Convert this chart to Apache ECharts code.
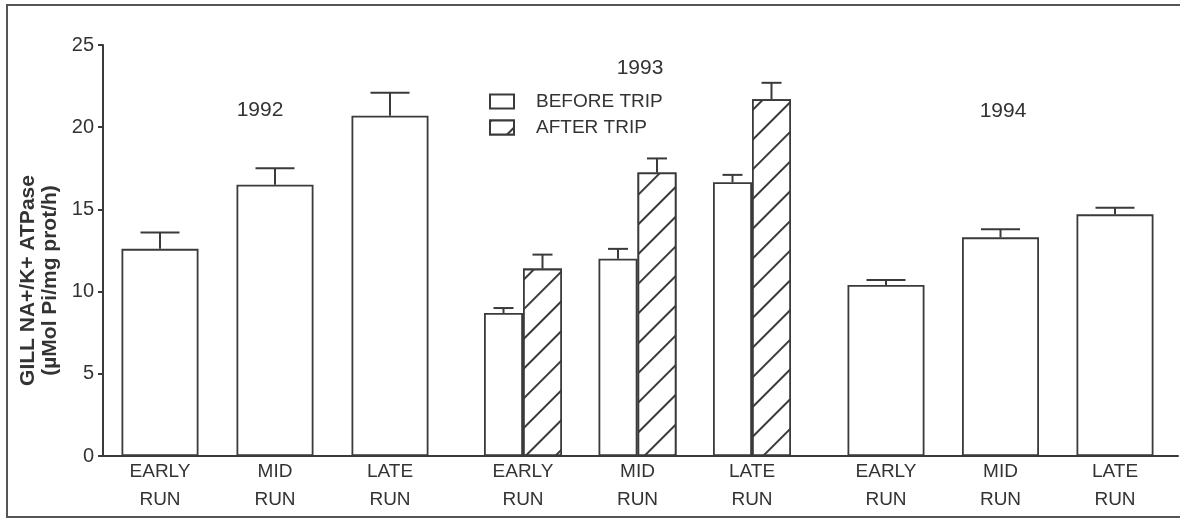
<!DOCTYPE html>
<html>
<head>
<meta charset="utf-8">
<title>Gill Na+/K+ ATPase</title>
<script src="https://cdn.jsdelivr.net/npm/echarts@6/dist/echarts.min.js"></script>
<style>
    html, body { margin: 0; padding: 0; background: #fff; }
    #main { width: 1180px; height: 519px; }
</style>
</head>
<body>
<div id="main"></div>
<script>
// categories and values
var runs = ['EARLY\nRUN', 'MID\nRUN', 'LATE\nRUN'];
var yTicks = [0, 5, 10, 15, 20, 25];
var years = ['1992', '1993', '1994'];

var mean1992 = [12.6, 16.5, 20.7];
var se1992 = [1.0, 1.0, 1.4];
var meanBefore1993 = [8.7, 12.0, 16.65];
var seBefore1993 = [0.3, 0.6, 0.45];
var meanAfter1993 = [11.4, 17.25, 21.7];
var seAfter1993 = [0.85, 0.85, 1.0];
var mean1994 = [10.4, 13.3, 14.7];
var se1994 = [0.3, 0.5, 0.4];

var ink = '#3a3a3a';
var textColor = '#333';
var font = "'Liberation Sans', Arial, Helvetica, sans-serif";

// upper error bar only
function errBar(offset, capHalf) {
    return function (params, api) {
        var base = api.coord([api.value(0), api.value(1)]);
        var top = api.coord([api.value(0), api.value(1) + api.value(2)]);
        var cx = base[0] + offset;
        var st = { stroke: ink, lineWidth: 2 };
        return {
            type: 'group',
            children: [
                { type: 'line', shape: { x1: cx, y1: base[1], x2: cx, y2: top[1] }, style: st },
                { type: 'line', shape: { x1: cx - capHalf, y1: top[1], x2: cx + capHalf, y2: top[1] }, style: st }
            ]
        };
    };
}

function errData(means, ses) {
    return means.map(function (v, i) { return [i, v, ses[i]]; });
}

var plainBar = { color: '#fff', borderColor: ink, borderWidth: 1.8 };
var hatchBar = {
    color: '#fff', borderColor: ink, borderWidth: 1.8,
    decal: {
        symbol: 'rect', symbolSize: 1, symbolKeepAspect: false,
        color: ink, backgroundColor: '#fff',
        dashArrayX: [1, 0], dashArrayY: [1.6, 18.4],
        rotation: -Math.PI / 4
    }
};

function yearAxisX(idx) {
    return {
        type: 'category', gridIndex: idx, data: runs,
        axisLine: { show: false }, axisTick: { show: false },
        axisLabel: { fontSize: 19, lineHeight: 28, margin: 2, color: textColor, fontFamily: font }
    };
}
function yearAxisY(idx) {
    return { type: 'value', gridIndex: idx, min: 0, max: 25, interval: 5, show: false, splitLine: { show: false } };
}

var myChart = echarts.init(document.getElementById('main'));
var option = {
    backgroundColor: '#fff',
    animation: false,
    grid: [
        { left: 103, right: 2, top: 45, bottom: 63, outerBoundsMode: 'none' },
        { left: 102.5, width: 345, top: 45, bottom: 63, outerBoundsMode: 'none' },
        { left: 465.75, width: 343.5, top: 45, bottom: 63, outerBoundsMode: 'none' },
        { left: 828.75, width: 343.5, top: 45, bottom: 63, outerBoundsMode: 'none' }
    ],
    legend: {
        data: ['BEFORE TRIP', 'AFTER TRIP'],
        orient: 'vertical',
        left: 484, top: 87,
        itemWidth: 24, itemHeight: 14, itemGap: 7,
        icon: 'rect',
        textStyle: { fontSize: 19, color: textColor, fontFamily: font, padding: [0, 0, 0, 17] },
        selectedMode: false
    },
    xAxis: [
        {
            type: 'value', gridIndex: 0, min: 0, max: 1,
            axisLine: { show: true, lineStyle: { color: ink, width: 2 } },
            axisTick: { show: false }, axisLabel: { show: false }, splitLine: { show: false }
        },
        yearAxisX(1), yearAxisX(2), yearAxisX(3)
    ],
    yAxis: [
        {
            type: 'value', gridIndex: 0, min: yTicks[0], max: yTicks[yTicks.length - 1], interval: 5,
            axisLine: { show: true, lineStyle: { color: ink, width: 2 } },
            axisTick: { show: true, length: 5, lineStyle: { color: ink, width: 2 } },
            axisLabel: { fontSize: 20, margin: 9, color: textColor, fontFamily: font },
            splitLine: { show: false },
            name: 'GILL NA+/K+ ATPase\n(\u00b5Mol Pi/mg prot/h)',
            nameLocation: 'middle', nameGap: 39,
            nameTextStyle: {
                fontSize: 21, fontWeight: 'bold', lineHeight: 22, color: textColor, fontFamily: font,
                padding: [0, 60, 0, 0]
            }
        },
        yearAxisY(1), yearAxisY(2), yearAxisY(3)
    ],
    series: [
        { name: years[0], type: 'bar', xAxisIndex: 1, yAxisIndex: 1, barWidth: 77, data: mean1992, itemStyle: plainBar },
        { type: 'custom', xAxisIndex: 1, yAxisIndex: 1, renderItem: errBar(0, 19.5), data: errData(mean1992, se1992), z: 3 },

        { name: 'BEFORE TRIP', type: 'bar', xAxisIndex: 2, yAxisIndex: 2, barWidth: 39, barGap: 0, data: meanBefore1993, itemStyle: plainBar },
        { name: 'AFTER TRIP', type: 'bar', xAxisIndex: 2, yAxisIndex: 2, barWidth: 39, barGap: 0, data: meanAfter1993, itemStyle: hatchBar },
        { type: 'custom', xAxisIndex: 2, yAxisIndex: 2, renderItem: errBar(-19.5, 10), data: errData(meanBefore1993, seBefore1993), z: 3 },
        { type: 'custom', xAxisIndex: 2, yAxisIndex: 2, renderItem: errBar(19.5, 10), data: errData(meanAfter1993, seAfter1993), z: 3 },

        { name: years[2], type: 'bar', xAxisIndex: 3, yAxisIndex: 3, barWidth: 77, data: mean1994, itemStyle: plainBar },
        { type: 'custom', xAxisIndex: 3, yAxisIndex: 3, renderItem: errBar(0, 19.5), data: errData(mean1994, se1994), z: 3 }
    ],
    graphic: [
        // 外框
        { type: 'rect', shape: { x: 7, y: 5, width: 1185, height: 512 }, style: { fill: 'none', stroke: '#555', lineWidth: 2 }, silent: true },
        { type: 'text', x: 260, y: 110, style: { text: years[0], fontSize: 21, fill: textColor, fontFamily: font, align: 'center', verticalAlign: 'middle' } },
        { type: 'text', x: 640, y: 68, style: { text: years[1], fontSize: 21, fill: textColor, fontFamily: font, align: 'center', verticalAlign: 'middle' } },
        { type: 'text', x: 1003, y: 111, style: { text: years[2], fontSize: 21, fill: textColor, fontFamily: font, align: 'center', verticalAlign: 'middle' } }
    ]
};
myChart.setOption(option);
</script>
</body>
</html>
